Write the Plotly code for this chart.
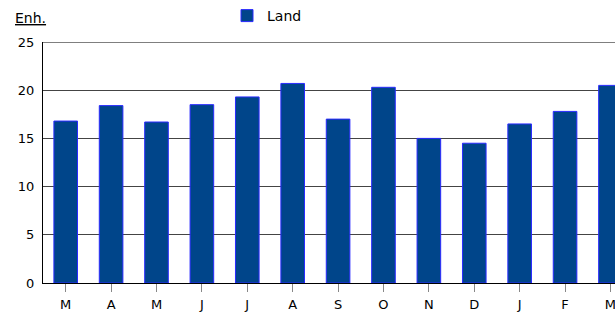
import plotly.graph_objects as go

months = ["M", "A", "M", "J", "J", "A", "S", "O", "N", "D", "J", "F", "M"]
land = [16.8, 18.4, 16.7, 18.5, 19.3, 20.7, 17.0, 20.3, 15.0, 14.5, 16.5, 17.8, 20.5]
series_name = "Land"
y_unit = "Enh."

x_idx = list(range(len(months)))

fig = go.Figure()
fig.add_trace(go.Bar(
    x=x_idx, y=land, name=series_name, width=0.52,
    marker=dict(color="#00458a", line=dict(color="#2a2aff", width=1)),
))

font = "DejaVu Sans, Verdana, sans-serif"
fig.update_layout(
    width=615, height=312,
    margin=dict(l=43, r=0, t=42, b=29, autoexpand=False),
    plot_bgcolor="white", paper_bgcolor="white",
    font=dict(family=font, size=13, color="#000"),
    showlegend=True,
    legend=dict(orientation="h", x=184/572, y=1.0, xref="paper", yref="container",
                xanchor="left", yanchor="top", font=dict(size=14),
                tracegroupgap=0),
    xaxis=dict(
        range=[-0.5, 12.1], tickmode="array", tickvals=x_idx, ticktext=months,
        showgrid=False, showline=True, linecolor="#000", linewidth=1,
        ticks="outside", ticklen=8, tickcolor="#888", tickwidth=1,
        ticklabelstandoff=1, tickfont=dict(size=13), fixedrange=True,
        automargin=False, ticklabeloverflow="allow",
    ),
    yaxis=dict(
        range=[0, 25], tickvals=[0, 5, 10, 15, 20, 25],
        showgrid=True, gridcolor="#444", gridwidth=1,
        showline=True, linecolor="#000", linewidth=1,
        zeroline=False, ticks="", ticklabelstandoff=5,
        tickfont=dict(size=13), fixedrange=True, automargin=False,
    ),
    annotations=[dict(
        text="<u>" + y_unit + "</u>", x=-30/572, y=1 + 24/241, xref="paper", yref="paper",
        xanchor="left", yanchor="middle", showarrow=False,
        font=dict(size=14),
    )],
)
fig.add_shape(type="line", xref="paper", yref="y", x0=0, x1=1, y0=25, y1=25,
              line=dict(color="#000", width=1))

fig.write_html("out.html", config={"displayModeBar": False},
               post_script="document.body.style.margin='0';document.body.style.overflow='hidden';")
